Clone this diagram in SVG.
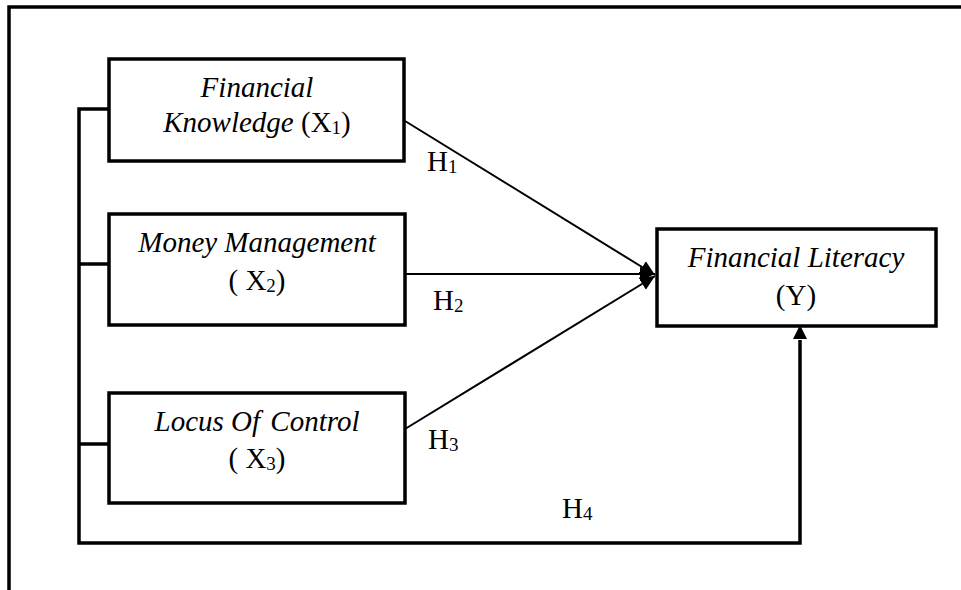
<svg xmlns="http://www.w3.org/2000/svg" width="961" height="590" viewBox="0 0 961 590">
  <style>
    .box { fill: #fff; stroke: #000; stroke-width: 3.5; }
    .t { font-family: "Liberation Serif", "Times New Roman", serif; font-size: 29px; fill: #000; }
    .i { font-style: italic; }
    .sub { font-size: 19px; }
    .thin { fill: none; stroke: #000; stroke-width: 2; }
    .thick { fill: none; stroke: #000; stroke-width: 3.5; }
  </style>
  <defs>
    <marker id="arr" markerUnits="userSpaceOnUse" markerWidth="18" markerHeight="16" refX="15" refY="8" orient="auto">
      <path d="M0,1 L15,8 L0,15 Z" fill="#000"/>
    </marker>
  </defs>

  <g id="frame">
    <path class="thick" d="M9,590 V7 H961"/>
  </g>

  <g id="connectors">
    <path class="thick" d="M109,109 H79 V543 H800 V340"/>
    <path class="thick" d="M79,264 H109"/>
    <path class="thick" d="M79,444 H109"/>
    <path d="M793,339 L800,325 L807,339 Z" fill="#000"/>
    <line class="thin" x1="405" y1="121" x2="655" y2="275" marker-end="url(#arr)"/>
    <line class="thin" x1="405" y1="274" x2="655" y2="274" marker-end="url(#arr)"/>
    <line class="thin" x1="405" y1="429" x2="655" y2="276" marker-end="url(#arr)"/>
    <text class="t" x="427" y="171">H<tspan class="sub" dy="2">1</tspan></text>
    <text class="t" x="433" y="310">H<tspan class="sub" dy="2">2</tspan></text>
    <text class="t" x="428" y="449">H<tspan class="sub" dy="2">3</tspan></text>
    <text class="t" x="562" y="518">H<tspan class="sub" dy="2">4</tspan></text>
  </g>

  <g id="x1">
    <rect class="box" x="109" y="59" width="295" height="102"/>
    <text class="t i" x="257" y="97" text-anchor="middle">Financial</text>
    <text class="t" x="257" y="132" text-anchor="middle"><tspan class="i">Knowledge</tspan> (X<tspan class="sub" dy="2">1</tspan><tspan dy="-2">)</tspan></text>
  </g>

  <g id="x2">
    <rect class="box" x="109" y="214" width="296" height="111"/>
    <text class="t i" x="257" y="252" text-anchor="middle">Money Management</text>
    <text class="t" x="257" y="290" text-anchor="middle">( X<tspan class="sub" dy="2">2</tspan><tspan dy="-2">)</tspan></text>
  </g>

  <g id="x3">
    <rect class="box" x="109" y="393" width="296" height="110"/>
    <text class="t i" x="257" y="431" text-anchor="middle">Locus Of <tspan dx="3">Control</tspan></text>
    <text class="t" x="257" y="468" text-anchor="middle">( X<tspan class="sub" dy="2">3</tspan><tspan dy="-2">)</tspan></text>
  </g>

  <g id="y">
    <rect class="box" x="657" y="229" width="279" height="97"/>
    <text class="t i" x="796" y="267" text-anchor="middle">Financial Literacy</text>
    <text class="t" x="796" y="305" text-anchor="middle">(Y)</text>
  </g>
</svg>
